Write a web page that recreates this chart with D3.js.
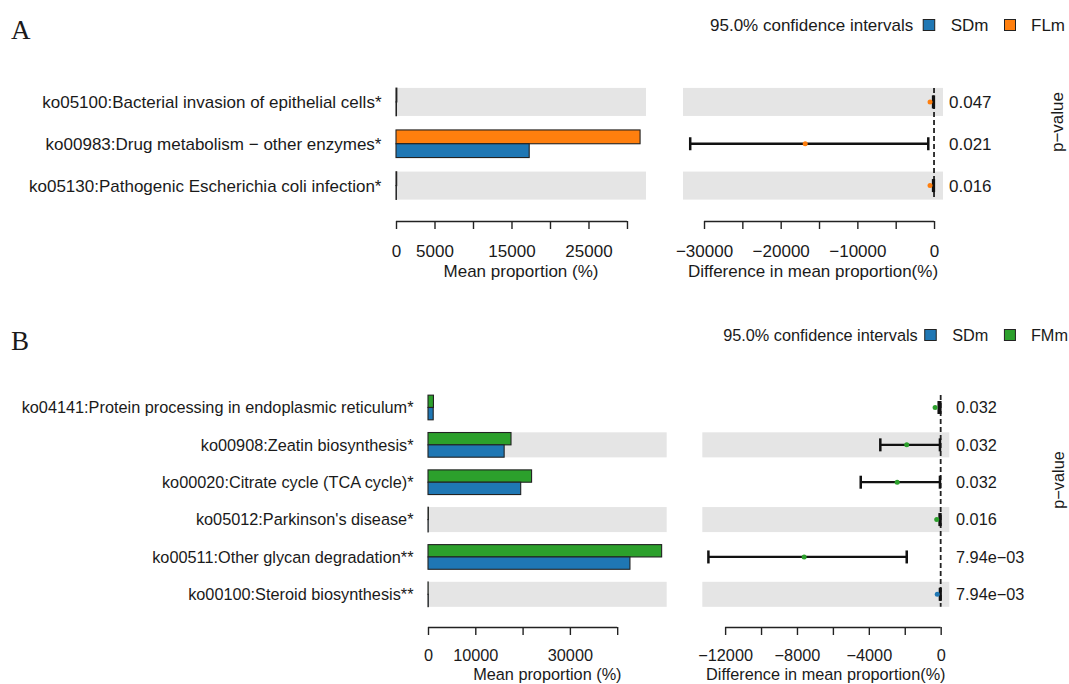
<!DOCTYPE html>
<html>
<head>
<meta charset="utf-8">
<script src="https://cdn.jsdelivr.net/npm/d3@7"></script>
<style>
  body { margin: 0; background: #fff; }
  svg { display: block; }
  text { font-family: "Liberation Sans", Arial, Helvetica, sans-serif; fill: #1a1a1a; }
</style>
</head>
<body>
<svg id="chart" width="1069" height="684"></svg>
<script>
// ---------- Panel A: SDm vs FLm ----------
const categoriesA = [
  "ko05100:Bacterial invasion of epithelial cells*",
  "ko00983:Drug metabolism \u2212 other enzymes*",
  "ko05130:Pathogenic Escherichia coli infection*"
];
const sdmA = [60, 17300, 50];
const flmA = [110, 31700, 90];
const diffA = [-520, -16800, -520];
const ciLowA = [-120, -31800, -120];
const ciHighA = [-20, -750, -20];
const dotGroupA = ["FLm", "FLm", "FLm"];
const pValuesA = ["0.047", "0.021", "0.016"];
const meanTicksA = [0, 5000, 10000, 15000, 20000, 25000, 30000];
const meanTickLabelsA = [0, 5000, 15000, 25000];
const diffTicksA = [-30000, -25000, -20000, -15000, -10000, -5000, 0];
const diffTickLabelsA = [-30000, -20000, -10000, 0];

// ---------- Panel B: SDm vs FMm ----------
const categoriesB = [
  "ko04141:Protein processing in endoplasmic reticulum*",
  "ko00908:Zeatin biosynthesis*",
  "ko00020:Citrate cycle (TCA cycle)*",
  "ko05012:Parkinson's disease*",
  "ko00511:Other glycan degradation**",
  "ko00100:Steroid biosynthesis**"
];
const sdmB = [1100, 16100, 19600, 40, 42700, 60];
const fmmB = [1150, 17550, 21900, 80, 49400, 30];
const diffB = [-310, -1890, -2420, -220, -7600, -190];
const ciLowB = [-110, -3360, -4450, -60, -12930, -40];
const ciHighB = [-20, -40, -40, -10, -1890, -5];
const dotGroupB = ["FMm", "FMm", "FMm", "FMm", "FMm", "SDm"];
const pValuesB = ["0.032", "0.032", "0.032", "0.016", "7.94e\u221203", "7.94e\u221203"];
const meanTicksB = [0, 10000, 20000, 30000, 40000];
const meanTickLabelsB = [0, 10000, 30000];
const diffTicksB = [-12000, -10000, -8000, -6000, -4000, -2000, 0];
const diffTickLabelsB = [-12000, -8000, -4000, 0];

const groupColors = { SDm: "#1f77b4", FLm: "#ff7f0e", FMm: "#2ca02c" };

const svg = d3.select("#chart");
const fmt = v => (v < 0 ? "\u2212" + Math.abs(v) : String(v));

function drawPanel(p) {
  const FONT = p.font;
  const g = svg.append("g");
  const n = p.categories.length;
  const rows = p.categories.map((c, i) => ({
    cat: c, sdm: p.sdm[i], other: p.other[i], diff: p.diff[i],
    lo: p.ciLow[i], hi: p.ciHigh[i], dot: p.dotGroup[i], pv: p.pValues[i],
    shaded: (n - 1 - i) % 2 === 0
  }));

  const y = d3.scaleBand().domain(p.categories).range(p.rowRange);
  const step = y.step();
  const cy = c => y(c) + step / 2;
  const bandH = step * 0.67;
  const barH = step * 0.33;
  const xl = d3.scaleLinear().domain(p.meanDomain).range(p.leftX);
  const xr = d3.scaleLinear().domain(p.diffDomain).range(p.rightX);

  // panel letter
  svg.append("text").attr("x", 11).attr("y", p.letterY)
    .style("font-family", '"Liberation Serif", "Times New Roman", serif')
    .attr("font-size", 27).text(p.letter);

  // shaded row bands in both panels
  const shadedRows = rows.filter(r => r.shaded);
  [p.leftX, p.rightX].forEach(ext => {
    g.selectAll(null).data(shadedRows).join("rect")
      .attr("x", ext[0]).attr("width", ext[1] - ext[0])
      .attr("y", d => cy(d.cat) - bandH / 2).attr("height", bandH)
      .attr("fill", "#e5e5e5");
  });

  // category labels
  g.selectAll(null).data(rows).join("text")
    .attr("x", p.leftX[0] - 14.5).attr("y", d => cy(d.cat)).attr("dy", "0.36em")
    .attr("text-anchor", "end").attr("font-size", FONT).text(d => d.cat);

  // mean proportion bars: upper = comparison group, lower = SDm
  g.selectAll(null).data(rows).join("rect")
    .attr("x", xl(0)).attr("y", d => cy(d.cat) - barH)
    .attr("width", d => xl(d.other) - xl(0)).attr("height", barH)
    .attr("fill", groupColors[p.otherName]).attr("stroke", "#222").attr("stroke-width", 1.1);
  g.selectAll(null).data(rows).join("rect")
    .attr("x", xl(0)).attr("y", d => cy(d.cat))
    .attr("width", d => xl(d.sdm) - xl(0)).attr("height", barH)
    .attr("fill", groupColors.SDm).attr("stroke", "#222").attr("stroke-width", 1.1);

  // zero reference line
  const top = cy(p.categories[0]) - bandH / 2;
  const bottom = cy(p.categories[n - 1]) + bandH / 2;
  g.append("line").attr("x1", xr(0)).attr("x2", xr(0)).attr("y1", top).attr("y2", bottom)
    .attr("stroke", "#222").attr("stroke-width", 1.8).attr("stroke-dasharray", "5,3");

  // confidence intervals
  g.selectAll(null).data(rows).join("line")
    .attr("x1", d => xr(d.lo)).attr("x2", d => xr(d.hi))
    .attr("y1", d => cy(d.cat)).attr("y2", d => cy(d.cat))
    .attr("stroke", "#111").attr("stroke-width", 2.3);
  rows.forEach(d => {
    [d.lo, d.hi].forEach(v => {
      g.append("line").attr("x1", xr(v)).attr("x2", xr(v))
        .attr("y1", cy(d.cat) - 6.5).attr("y2", cy(d.cat) + 6.5)
        .attr("stroke", "#111").attr("stroke-width", 2.5);
    });
  });
  g.selectAll(null).data(rows).join("circle")
    .attr("cx", d => xr(d.diff)).attr("cy", d => cy(d.cat)).attr("r", 2.5)
    .attr("fill", d => groupColors[d.dot]);

  // p-values
  g.selectAll(null).data(rows).join("text")
    .attr("x", p.pX).attr("y", d => cy(d.cat)).attr("dy", "0.36em")
    .attr("font-size", FONT).text(d => d.pv);
  g.append("text").attr("transform", `translate(${p.pTitle[0]},${p.pTitle[1]}) rotate(-90)`)
    .attr("text-anchor", "middle").attr("font-size", FONT).text("p\u2212value");

  // axes
  function axis(scale, ticks, labels, title) {
    const ax = d3.axisBottom(scale).tickValues(ticks).tickSize(8).tickPadding(p.tickPad)
      .tickFormat(v => (labels.includes(v) ? fmt(v) : ""));
    const a = g.append("g").attr("transform", `translate(0,${p.axisY})`).call(ax)
      .attr("font-size", null).attr("font-family", null).attr("color", "#222");
    a.select(".domain").remove();
    a.selectAll(".tick line").attr("stroke-width", 1.4);
    a.selectAll(".tick text").attr("font-size", FONT);
    a.append("line").attr("x1", scale(ticks[0])).attr("x2", scale(ticks[ticks.length - 1]))
      .attr("y1", 0.5).attr("y2", 0.5).attr("stroke", "#222").attr("stroke-width", 1.4);
    const r = scale.range();
    g.append("text").attr("x", (r[0] + r[1]) / 2).attr("y", p.axisY + p.titleOffset)
      .attr("text-anchor", "middle").attr("font-size", FONT).text(title);
  }
  axis(xl, p.meanTicks, p.meanLabels, "Mean proportion (%)");
  axis(xr, p.diffTicks, p.diffLabels, "Difference in mean proportion(%)");

  // legend, laid out from the right edge
  const lg = svg.append("g");
  const ly = p.legendY;
  let x = p.legendRight;
  const t3 = lg.append("text").attr("x", x).attr("y", ly).attr("dy", "0.36em")
    .attr("text-anchor", "end").attr("font-size", FONT).text(p.otherName);
  x -= t3.node().getComputedTextLength() + 15.5;
  lg.append("rect").attr("x", x - 11).attr("y", ly - 5.5).attr("width", 11).attr("height", 11)
    .attr("fill", groupColors[p.otherName]).attr("stroke", "#222");
  x -= 11 + 16;
  const t2 = lg.append("text").attr("x", x).attr("y", ly).attr("dy", "0.36em")
    .attr("text-anchor", "end").attr("font-size", FONT).text("SDm");
  x -= t2.node().getComputedTextLength() + 16;
  lg.append("rect").attr("x", x - 11.5).attr("y", ly - 5.5).attr("width", 11.5).attr("height", 11)
    .attr("fill", groupColors.SDm).attr("stroke", "#222");
  x -= 11.5 + p.legendGap;
  lg.append("text").attr("x", x).attr("y", ly).attr("dy", "0.36em")
    .attr("text-anchor", "end").attr("font-size", FONT).text("95.0% confidence intervals");
}

drawPanel({
  letter: "A", letterY: 39, font: 17,
  categories: categoriesA, sdm: sdmA, other: flmA, otherName: "FLm",
  diff: diffA, ciLow: ciLowA, ciHigh: ciHighA, dotGroup: dotGroupA, pValues: pValuesA,
  meanTicks: meanTicksA, meanLabels: meanTickLabelsA,
  diffTicks: diffTicksA, diffLabels: diffTickLabelsA,
  rowRange: [81, 206.5], leftX: [396, 646], rightX: [683, 943],
  meanDomain: [0, 32470], diffDomain: [-32740, 1170],
  axisY: 221, tickPad: 16, titleOffset: 56, pX: 949, pTitle: [1063, 122],
  legendY: 25, legendRight: 1065, legendGap: 10
});

drawPanel({
  letter: "B", letterY: 350, font: 16.3,
  categories: categoriesB, sdm: sdmB, other: fmmB, otherName: "FMm",
  diff: diffB, ciLow: ciLowB, ciHigh: ciHighB, dotGroup: dotGroupB, pValues: pValuesB,
  meanTicks: meanTicksB, meanLabels: meanTickLabelsB,
  diffTicks: diffTicksB, diffLabels: diffTickLabelsB,
  rowRange: [388.8, 613], leftX: [428, 666.7], rightX: [702.3, 949.3],
  meanDomain: [0, 50470], diffDomain: [-13270, 480],
  axisY: 627, tickPad: 14, titleOffset: 53, pX: 956, pTitle: [1064, 480],
  legendY: 335, legendRight: 1068, legendGap: 7
});
</script>
</body>
</html>
